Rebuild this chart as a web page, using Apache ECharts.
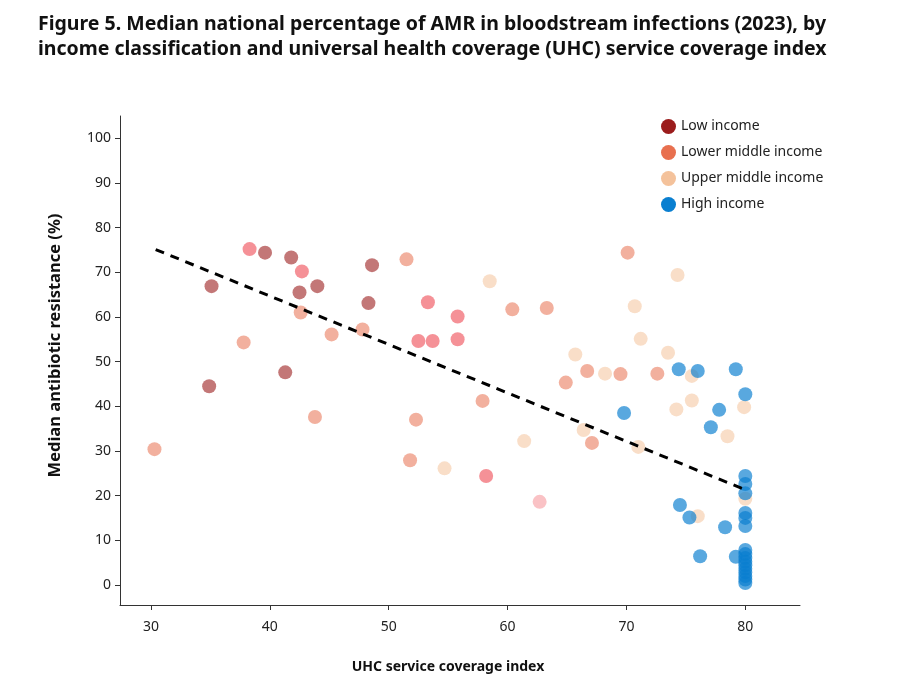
<!DOCTYPE html>
<html>
<head>
<meta charset="utf-8">
<script src="https://cdn.jsdelivr.net/npm/echarts@6/dist/echarts.min.js"></script>
<style>
  html, body { margin: 0; padding: 0; background: #fff; }
  #chart { width: 900px; height: 687px; }
</style>
</head>
<body>
<div id="chart"></div>
<script>
// [UHC index, median % resistance]
const lowIncome = [
  [35.1, 66.9], [34.9, 44.5], [39.6, 74.4], [41.8, 73.3], [42.5, 65.5],
  [44.0, 66.9], [41.3, 47.6], [48.3, 63.1], [48.6, 71.6]
];
// brighter pink dots (not in the legend)
const pinkDots = [
  [38.3, 75.2], [42.7, 70.2], [53.3, 63.3], [55.8, 60.1], [52.5, 54.6],
  [53.7, 54.6], [55.8, 55.0], [58.2, 24.4]
];
const paleDots = [[62.7, 18.6]];
const lowerMiddle = [
  [30.3, 30.4], [37.8, 54.3], [42.6, 61.0], [43.8, 37.6], [45.2, 56.1],
  [47.8, 57.2], [51.5, 72.9], [51.8, 27.9], [52.3, 37.0], [57.9, 41.2],
  [60.4, 61.7], [63.3, 62.0], [64.9, 45.3], [66.7, 47.9], [67.1, 31.8],
  [69.5, 47.2], [70.1, 74.4], [72.6, 47.3]
];
const upperMiddle = [
  [54.7, 26.1], [58.5, 68.0], [61.4, 32.2], [65.7, 51.6], [66.4, 34.7],
  [68.2, 47.3], [70.7, 62.4], [71.0, 30.9], [71.2, 55.1], [73.5, 52.0],
  [74.2, 39.3], [74.3, 69.4], [75.5, 46.8], [75.5, 41.3], [76.0, 15.4],
  [78.5, 33.3], [79.9, 39.8], [80.0, 19.3]
];
const highIncome = [
  [69.8, 38.5], [74.4, 48.3], [74.5, 17.9], [75.3, 15.1], [76.0, 47.9],
  [76.2, 6.4], [77.1, 35.3], [77.8, 39.2], [78.3, 12.9], [79.2, 48.3],
  [79.2, 6.3], [80.0, 42.7], [80.0, 24.4], [80.0, 22.6], [80.0, 20.5],
  [80.0, 16.1], [80.0, 15.0], [80.0, 13.2], [80.0, 7.8], [80.0, 6.9],
  [80.0, 6.0], [80.0, 5.2], [80.0, 4.4], [80.0, 3.6], [80.0, 2.8],
  [80.0, 2.0], [80.0, 1.2], [80.0, 0.4]
];
// fitted trend line end points
const trend = [[30.4, 75.1], [80.0, 21.3]];

const xTicks = [30, 40, 50, 60, 70, 80];
const yTicks = [0, 10, 20, 30, 40, 50, 60, 70, 80, 90, 100];

const legendNames = ['Low income', 'Lower middle income', 'Upper middle income', 'High income'];

const FONT = 'Noto Sans';
const dotSize = 14;

function dots(name, data, color, opacity, z) {
  return {
    name, type: 'scatter', data, symbolSize: dotSize, z,
    itemStyle: { color, opacity },
    emphasis: { disabled: true },
  };
}

const chart = echarts.init(document.getElementById('chart'));
chart.setOption({
  animation: false,
  textStyle: { fontFamily: FONT },
  title: {
    text: 'Figure 5. Median national percentage of AMR in bloodstream infections (2023), by\nincome classification and universal health coverage (UHC) service coverage index',
    left: 33, top: 7,
    textStyle: { fontFamily: FONT, fontSize: 19.5, fontWeight: 'bold', color: '#111', lineHeight: 25 },
  },
  legend: {
    orient: 'vertical',
    left: 656, top: 114,
    itemWidth: 15, itemHeight: 15, itemGap: 11,
    icon: 'circle',
    data: legendNames.map(n => ({ name: n, itemStyle: { opacity: 1 } })),
    textStyle: { fontFamily: FONT, fontSize: 14, color: '#222' },
  },
  grid: { left: 120, right: 100, top: 116, bottom: 82 },
  xAxis: {
    type: 'value', min: 27.4, max: 84.6,
    name: 'UHC service coverage index',
    nameLocation: 'middle', nameGap: 55,
    nameTextStyle: { fontFamily: FONT, fontSize: 14, fontWeight: 'bold', color: '#111', padding: [0, 24, 0, 0] },
    axisLine: { show: true, onZero: false, lineStyle: { color: '#333', width: 1 } },
    axisTick: { show: true, length: 5, lineStyle: { color: '#333' }, customValues: xTicks },
    axisLabel: { fontSize: 14, color: '#222', margin: 15, customValues: xTicks },
    splitLine: { show: false },
  },
  yAxis: {
    type: 'value', min: -4.5, max: 105,
    name: 'Median antibiotic resistance (%)',
    nameLocation: 'middle', nameGap: 56,
    nameTextStyle: { fontFamily: FONT, fontSize: 16.5, fontWeight: 'bold', color: '#111', padding: [0, 0, 0, 30] },
    axisLine: { show: true, onZero: false, lineStyle: { color: '#333', width: 1 } },
    axisTick: { show: true, length: 5, lineStyle: { color: '#333' }, customValues: yTicks },
    axisLabel: { fontSize: 14, color: '#222', margin: 9, customValues: yTicks },
    splitLine: { show: false },
  },
  series: [
    dots('Upper middle income', upperMiddle, '#f4c29b', 0.55, 2),
    dots('Lower middle income', lowerMiddle, '#e8704f', 0.55, 3),
    dots('Pink', pinkDots, '#ec2330', 0.5, 3),
    dots('Pale', paleDots, '#ec2330', 0.28, 3),
    dots('Low income', lowIncome, '#9b1c1c', 0.6, 4),
    dots('High income', highIncome, '#0a7fd0', 0.68, 5),
    {
      name: 'Trend', type: 'line', data: trend, z: 6,
      symbol: 'none',
      lineStyle: { color: '#000', width: 3, type: [9, 7] },
      emphasis: { disabled: true },
    },
  ],
});
</script>
</body>
</html>
